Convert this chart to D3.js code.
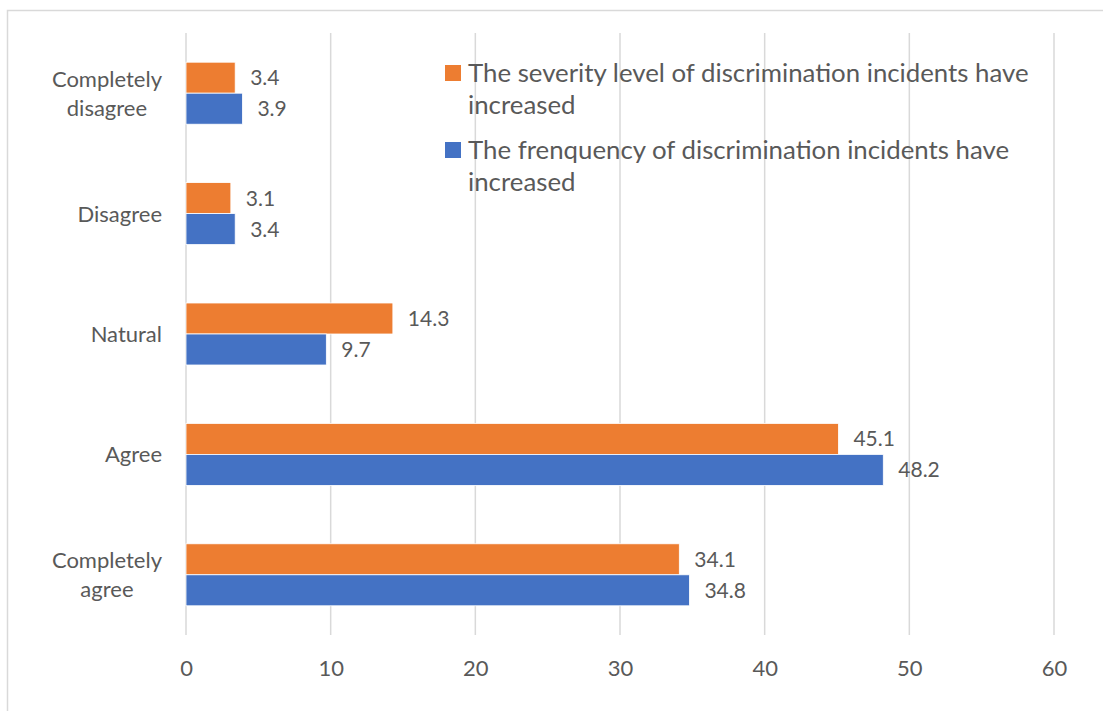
<!DOCTYPE html>
<html>
<head>
<meta charset="utf-8">
<script src="https://cdn.jsdelivr.net/npm/d3@7"></script>
<style>
  html, body { margin: 0; padding: 0; background: #fff; }
  svg { display: block; }
  text { font-family: Lato, "Noto Sans", sans-serif; fill: #595959; }
</style>
</head>
<body>
<svg id="chart" width="1103" height="711"></svg>
<script>
// Survey responses (percent)
const categories = [
  ["Completely", "disagree"],
  ["Disagree"],
  ["Natural"],
  ["Agree"],
  ["Completely", "agree"]
];
const severity  = [3.4, 3.1, 14.3, 45.1, 34.1];
const frequency = [3.9, 3.4, 9.7, 48.2, 34.8];
const seriesNames = [
  ["The severity level of discrimination incidents have", "increased"],
  ["The frenquency of discrimination incidents have", "increased"]
];
const xTicks = [0, 10, 20, 30, 40, 50, 60];

const colors = ["#ED7D31", "#4472C4"];
const series = [severity, frequency];

const svg = d3.select("#chart");
const plot = { left: 186, right: 1054, top: 33, bottom: 635 };

// outer chart frame
svg.append("rect")
  .attr("x", 7.5).attr("y", 10.5)
  .attr("width", 1200).attr("height", 800)
  .attr("fill", "none").attr("stroke", "#d9d9d9").attr("stroke-width", 1.5);

const x = d3.scaleLinear().domain([0, 60]).range([plot.left, plot.right]);
const y = d3.scaleBand().domain(d3.range(categories.length))
  .range([plot.top, plot.bottom]).paddingInner(0.485).paddingOuter(0.2425);
const inner = d3.scaleBand().domain([0, 1]).range([0, y.bandwidth()]);

// vertical gridlines
svg.append("g").selectAll("line").data(xTicks).join("line")
  .attr("x1", d => x(d)).attr("x2", d => x(d))
  .attr("y1", plot.top).attr("y2", plot.bottom)
  .attr("stroke", "#d9d9d9").attr("stroke-width", 1.5);

// x axis labels
const xAxis = d3.axisBottom(x).tickValues(xTicks).tickSize(0).tickPadding(0);
const gx = svg.append("g").attr("transform", `translate(0,${plot.bottom})`).call(xAxis);
gx.select(".domain").remove();
gx.selectAll("text")
  .attr("y", 41).attr("dy", null)
  .style("font-size", "22px").style("font-family", "Lato, sans-serif").attr("fill", "#595959");

// bars with value labels
series.forEach((vals, s) => {
  const g = svg.append("g");
  g.selectAll("rect").data(vals).join("rect")
    .attr("x", x(0))
    .attr("y", (d, i) => y(i) + inner(s))
    .attr("width", d => x(d) - x(0))
    .attr("height", inner.bandwidth())
    .attr("fill", colors[s])
    .attr("stroke", "#fff").attr("stroke-width", 0.8);
  g.selectAll("text").data(vals).join("text")
    .attr("x", d => x(d) + 15)
    .attr("y", (d, i) => y(i) + inner(s) + inner.bandwidth() / 2)
    .attr("dy", "0.36em")
    .style("font-size", "21px")
    .text(d => d.toFixed(1));
});

// category labels, block right-aligned near the axis, lines centered in block
const catRight = 162;
categories.forEach((lines, i) => {
  const cy = y(i) + y.bandwidth() / 2;
  const lh = 29;
  const t = svg.append("text").style("font-size", "22px").attr("text-anchor", "middle");
  const spans = lines.map((ln, k) => t.append("tspan")
    .attr("y", cy + (k - (lines.length - 1) / 2) * lh)
    .attr("dy", "0.36em").text(ln));
  const wmax = d3.max(spans, sp => sp.node().getComputedTextLength());
  spans.forEach(sp => sp.attr("x", catRight - wmax / 2));
});

// legend
const legend = svg.append("g");
const legendTop = [65, 142];
seriesNames.forEach((lines, s) => {
  legend.append("rect")
    .attr("x", 445).attr("y", legendTop[s])
    .attr("width", 16).attr("height", 16)
    .attr("fill", colors[s]);
  lines.forEach((ln, k) => {
    legend.append("text")
      .attr("x", 468)
      .attr("y", legendTop[s] + 17 + k * 32)
      .style("font-size", "25.8px")
      .text(ln);
  });
});
</script>
</body>
</html>
